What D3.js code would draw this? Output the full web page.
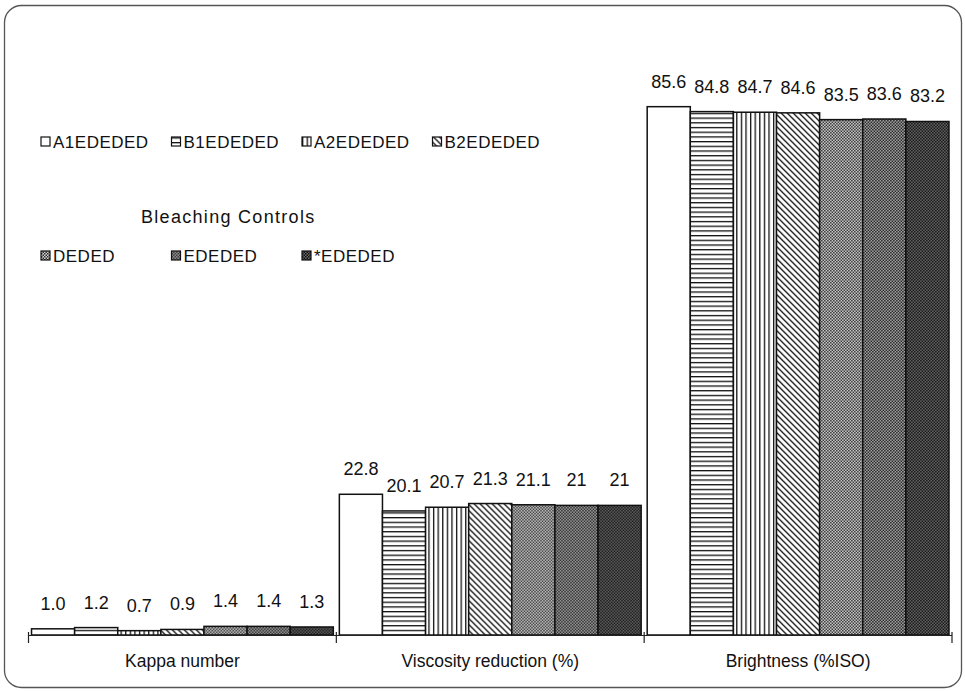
<!DOCTYPE html>
<html>
<head>
<meta charset="utf-8">
<script src="https://cdn.jsdelivr.net/npm/d3@7/dist/d3.min.js"></script>
<style>
  html, body { margin: 0; padding: 0; background: #fff; }
  svg { display: block; font-family: "Liberation Sans", Arial, sans-serif; }
</style>
</head>
<body>
<svg id="chart" width="965" height="691"></svg>
<script>
// Measured properties, one group of bars per property
const categories = ["Kappa number", "Viscosity reduction (%)", "Brightness (%ISO)"];

// Bleaching sequences (4 experimental + 3 controls)
const experimentSeries = ["A1EDEDED", "B1EDEDED", "A2EDEDED", "B2EDEDED"];
const controlSeries = ["DEDED", "EDEDED", "*EDEDED"];
const seriesNames = experimentSeries.concat(controlSeries);

// Values per property, in series order
const kappaValues = [1.0, 1.2, 0.7, 0.9, 1.4, 1.4, 1.3];
const viscosityValues = [22.8, 20.1, 20.7, 21.3, 21.1, 21, 21];
const brightnessValues = [85.6, 84.8, 84.7, 84.6, 83.5, 83.6, 83.2];

const valuesByCategory = [kappaValues, viscosityValues, brightnessValues];
const labelFormats = [d3.format(".1f"), d => String(d), d => String(d)];

const legendTitle = "Bleaching Controls";

const svg = d3.select("#chart");
const W = 965, H = 691;

svg.append("rect").attr("width", W).attr("height", H).attr("fill", "#fff");

// Rounded frame
svg.append("rect")
  .attr("x", 4.5).attr("y", 5.5)
  .attr("width", 957).attr("height", 682)
  .attr("rx", 17).attr("ry", 17)
  .attr("fill", "none").attr("stroke", "#555").attr("stroke-width", 1.3);

// ---- Fill patterns for each series ----
const defs = svg.append("defs");

// 1: horizontal lines
const pH = defs.append("pattern").attr("id", "pat1").attr("patternUnits", "userSpaceOnUse")
  .attr("width", 8).attr("height", 4.7);
pH.append("rect").attr("width", 8).attr("height", 4.7).attr("fill", "#fff");
pH.append("rect").attr("y", 0).attr("width", 8).attr("height", 1.3).attr("fill", "#111");

// 2: vertical lines
const pV = defs.append("pattern").attr("id", "pat2").attr("patternUnits", "userSpaceOnUse")
  .attr("width", 4.6).attr("height", 8);
pV.append("rect").attr("width", 4.6).attr("height", 8).attr("fill", "#fff");
pV.append("rect").attr("x", 0).attr("width", 1.3).attr("height", 8).attr("fill", "#111");

// 3: diagonal lines, top-left to bottom-right
const pD = defs.append("pattern").attr("id", "pat3").attr("patternUnits", "userSpaceOnUse")
  .attr("width", 6).attr("height", 6);
pD.append("rect").attr("width", 6).attr("height", 6).attr("fill", "#fff");
pD.append("path").attr("d", "M-1,-1 L7,7 M-4,2 L1,7 M2,-4 L7,1")
  .attr("stroke", "#111").attr("stroke-width", 1.3);

// 4-6: dotted checker screens of increasing darkness
const screens = [
  { id: "pat4", bg: "#d8d8d8", fg: "#2a2a2a" },
  { id: "pat5", bg: "#b0b0b0", fg: "#1a1a1a" },
  { id: "pat6", bg: "#6a6a6a", fg: "#101010" }
];
screens.forEach(s => {
  const p = defs.append("pattern").attr("id", s.id).attr("patternUnits", "userSpaceOnUse")
    .attr("width", 3).attr("height", 3);
  p.append("rect").attr("width", 3).attr("height", 3).attr("fill", s.bg);
  p.append("rect").attr("x", 0).attr("y", 0).attr("width", 1.5).attr("height", 1.5).attr("fill", s.fg);
  p.append("rect").attr("x", 1.5).attr("y", 1.5).attr("width", 1.5).attr("height", 1.5).attr("fill", s.fg);
});

const fills = ["#fff", "url(#pat1)", "url(#pat2)", "url(#pat3)", "url(#pat4)", "url(#pat5)", "url(#pat6)"];
const fillOf = d3.scaleOrdinal().domain(seriesNames).range(fills);

// ---- Scales ----
const baseY = 635;
const x = d3.scaleBand().domain(categories).range([28.5, 952]).paddingInner(0).paddingOuter(0);
const xs = d3.scaleBand().domain(seriesNames).range([0, x.bandwidth()]).paddingInner(0).paddingOuter(0.07);
const y = d3.scaleLinear().domain([0, 90]).range([baseY, baseY - 90 * 6.172]);

// ---- Bars ----
const groups = svg.append("g").selectAll("g")
  .data(categories)
  .join("g")
  .attr("transform", d => `translate(${x(d)},0)`);

groups.each(function (cat, ci) {
  const g = d3.select(this);
  const rows = seriesNames.map((s, i) => ({ s, v: valuesByCategory[ci][i] }));
  g.selectAll("rect")
    .data(rows)
    .join("rect")
    .attr("x", d => xs(d.s))
    .attr("y", d => y(d.v))
    .attr("width", xs.bandwidth())
    .attr("height", d => y(0) - y(d.v))
    .attr("fill", d => fillOf(d.s))
    .attr("stroke", "#111")
    .attr("stroke-width", 1.5);
  g.selectAll("text")
    .data(rows)
    .join("text")
    .attr("x", d => xs(d.s) + xs.bandwidth() / 2)
    .attr("y", d => y(d.v) - 19)
    .attr("text-anchor", "middle")
    .attr("font-size", 18)
    .attr("fill", "#111")
    .text(d => labelFormats[ci](d.v));
});

// ---- Category axis ----
const axis = svg.append("g")
  .attr("transform", `translate(0,${baseY})`)
  .call(d3.axisBottom(x).tickSize(0).tickPadding(20));
axis.select(".domain").remove();
axis.selectAll("text").attr("font-size", 17.5).attr("fill", "#111")
  .attr("font-family", "'Liberation Sans', Arial, sans-serif");

const xr = x.range();
svg.append("line")
  .attr("x1", xr[0]).attr("x2", xr[1])
  .attr("y1", baseY + 0.5).attr("y2", baseY + 0.5)
  .attr("stroke", "#222").attr("stroke-width", 1.2);

const boundaries = categories.map(c => x(c)).concat([xr[1]]);
svg.append("g").selectAll("line")
  .data(boundaries)
  .join("line")
  .attr("x1", d => d).attr("x2", d => d)
  .attr("y1", baseY - 3).attr("y2", baseY + 8)
  .attr("stroke", "#222").attr("stroke-width", 1.2);

// ---- Legend ----
const legend = svg.append("g").attr("font-size", 17).attr("fill", "#111");
const legendX = i => 41 + i * 130.5;

function legendRow(names, rowY) {
  const item = legend.append("g").selectAll("g")
    .data(names)
    .join("g")
    .attr("transform", (d, i) => `translate(${legendX(i)},${rowY})`);
  item.append("rect")
    .attr("x", 0).attr("y", -5)
    .attr("width", 9).attr("height", 9)
    .attr("fill", d => fillOf(d))
    .attr("stroke", "#111").attr("stroke-width", 1.2);
  item.append("text")
    .attr("x", 12).attr("y", 6)
    .attr("letter-spacing", 0.5)
    .text(d => d);
}

legendRow(experimentSeries, 142);

legend.append("text")
  .attr("x", 141).attr("y", 223)
  .attr("font-size", 18)
  .attr("letter-spacing", 1.3)
  .text(legendTitle);

legendRow(controlSeries, 256);
</script>
</body>
</html>
